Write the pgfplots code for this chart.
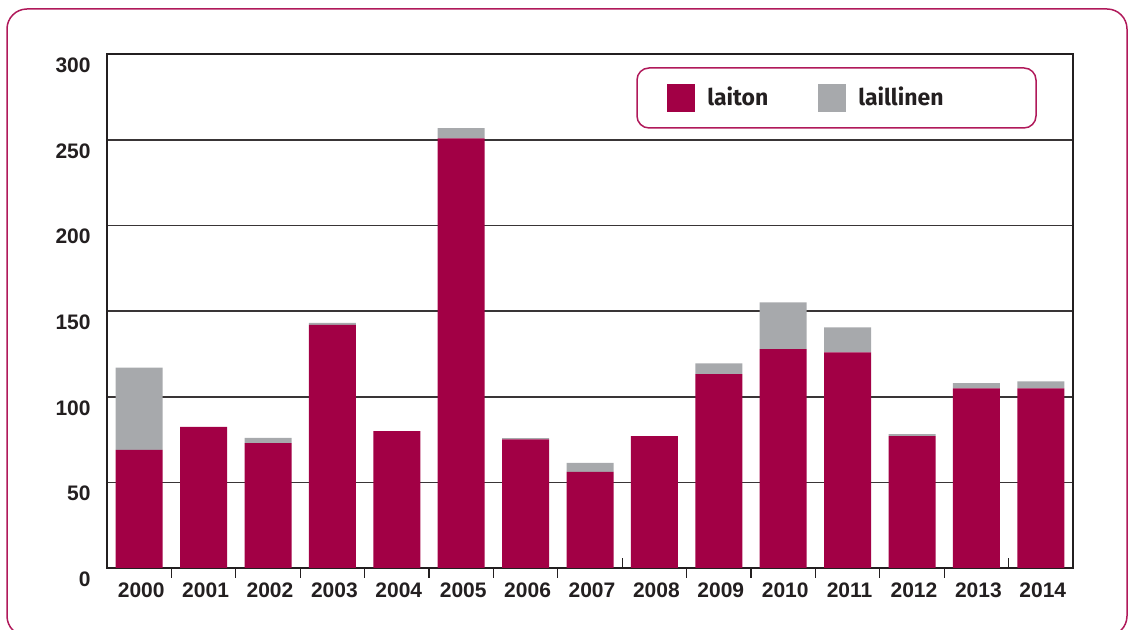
\documentclass[border=0pt]{standalone}
\usepackage{pgfplots}
\pgfplotsset{compat=1.18}
\usepackage{fontspec}
\setmainfont{Liberation Sans}
\newfontfamily\legfont{Fira Sans}
\definecolor{crim}{HTML}{A20045}
\definecolor{lgray}{HTML}{A7A9AC}
\definecolor{framec}{HTML}{B0195A}
\definecolor{ink}{HTML}{231F20}
\begin{document}
\begin{tikzpicture}[x=1pt,y=1pt]
\path[use as bounding box] (0,0) rectangle (566,315);
\begin{scope}
\clip (0,0) rectangle (566,315);
\draw[framec, line width=0.75pt, rounded corners=10pt] (3.5,-3) rectangle (563.5,310.5);
\end{scope}
\begin{axis}[
  at={(53.5pt,31pt)}, anchor=south west,
  scale only axis, width=483pt, height=256.75pt,
  xmin=-0.5, xmax=14.5, ymin=0, ymax=300,
  ybar stacked, bar width=23.5pt,
  axis line style={ink, line width=1pt},
  ymajorgrids, grid style={ink!90, line width=0.8pt},
  ytick={0,50,...,300},
  xtick={0,...,14},
  xticklabels={2000,2001,2002,2003,2004,2005,2006,2007,2008,2009,2010,2011,2012,2013,2014},
  minor xtick={0.5,1.5,2.5,3.5,4.5,5.5,6.5,8.5,9.5,10.5,11.5,12.5},
  major tick length=0pt, minor tick length=5pt,
  tick align=outside, xtick pos=bottom, ytick pos=left,
  minor tick style={ink, line width=0.6pt},
  extra x ticks={7.5,13.5},
  extra x tick labels={},
  extra x tick style={tick align=inside, major tick length=5pt, major tick style={ink, line width=0.6pt}},
  /pgf/number format/assume math mode=true,
  tick label style={font=\fontsize{10.5}{12}\selectfont\bfseries, text=ink},
  yticklabel style={inner sep=0pt, xshift=-8pt, yshift=-5.5pt},
  xticklabel style={inner sep=0pt, yshift=-7pt, xshift=1pt},
  legend style={at={(0.5797,0.9153)}, anchor=west, draw=none, fill=none,
    inner sep=0pt, nodes={inner sep=0pt},
    font=\legfont\bfseries\fontsize{11.5}{13}\selectfont, text=ink,
    /tikz/column sep=6pt,
    /tikz/every even column/.append style={column sep=25pt}},
  legend columns=2,
  legend image code/.code={\fill[#1] (0pt,-7pt) rectangle (14pt,7pt);},
]
\addplot[fill=crim, draw=none] coordinates {
(0,69) (1,82.5) (2,73) (3,142) (4,80) (5,251) (6,75.2) (7,56.2)
(8,77) (9,113.2) (10,127.8) (11,126) (12,77) (13,105) (14,105)};
\addlegendentry{laiton}
\addplot[fill=lgray, draw=none] coordinates {
(0,48) (1,0) (2,3) (3,1.2) (4,0) (5,6) (6,0.6) (7,5.2)
(8,0) (9,6.4) (10,27.4) (11,14.6) (12,1.2) (13,3) (14,4)};
\addlegendentry{laillinen}
\end{axis}
\draw[framec, line width=0.75pt, rounded corners=6pt] (318.5,251) rectangle (518,281);
\end{tikzpicture}
\end{document}
